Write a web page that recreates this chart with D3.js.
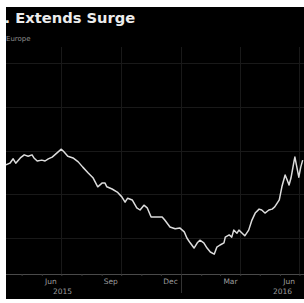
<!DOCTYPE html>
<html>
<head>
<meta charset="utf-8">
<script src="https://cdn.jsdelivr.net/npm/d3@7"></script>
<style>
  html, body { margin: 0; padding: 0; background: #fff; }
  svg { display: block; }
</style>
</head>
<body>
<div id="chart"></div>
<script>
// series
const dates = [
  "2015-04-07", "2015-04-13", "2015-04-18", "2015-04-22", "2015-04-29", "2015-05-05",
  "2015-05-11", "2015-05-17", "2015-05-20", "2015-05-25", "2015-06-01", "2015-06-06",
  "2015-06-11", "2015-06-17", "2015-06-24", "2015-07-01", "2015-07-05", "2015-07-11",
  "2015-07-19", "2015-07-27", "2015-08-03", "2015-08-11", "2015-08-19", "2015-08-26",
  "2015-09-02", "2015-09-06", "2015-09-09", "2015-09-17", "2015-09-25", "2015-10-02",
  "2015-10-07", "2015-10-11", "2015-10-18", "2015-10-25", "2015-10-30", "2015-11-05",
  "2015-11-10", "2015-11-16", "2015-11-25", "2015-12-03", "2015-12-07", "2015-12-15",
  "2015-12-23", "2015-12-30", "2016-01-06", "2016-01-10", "2016-01-15", "2016-01-21",
  "2016-01-26", "2016-01-30", "2016-02-05", "2016-02-10", "2016-02-15", "2016-02-21",
  "2016-02-25", "2016-03-01", "2016-03-07", "2016-03-09", "2016-03-15", "2016-03-19",
  "2016-03-22", "2016-03-27", "2016-03-30", "2016-04-04", "2016-04-08", "2016-04-14",
  "2016-04-19", "2016-04-24", "2016-04-30", "2016-05-04", "2016-05-09", "2016-05-15",
  "2016-05-20", "2016-05-24", "2016-05-31", "2016-06-04", "2016-06-09", "2016-06-12",
  "2016-06-15", "2016-06-18", "2016-06-23", "2016-06-24", "2016-06-27", "2016-06-30",
  "2016-07-03", "2016-07-06"
];
const values = [
  116.7, 117.1, 118.1, 117.1, 118.3, 119.0,
  118.7, 119.0, 118.3, 117.6, 117.8, 117.6,
  118.1, 118.5, 119.4, 120.3, 119.7, 118.7,
  118.3, 117.4, 116.2, 114.9, 113.7, 111.7,
  112.6, 112.6, 111.7, 111.2, 110.5, 109.4,
  108.2, 109.1, 108.7, 106.9, 106.4, 107.5,
  106.9, 104.8, 104.8, 104.8, 104.1, 102.5,
  102.1, 102.3, 101.4, 100.0, 98.9, 97.7,
  98.9, 99.5, 98.9, 97.7, 96.8, 96.3,
  97.9, 98.4, 98.9, 100.2, 100.7, 100.2,
  101.8, 101.1, 101.8, 101.1, 100.5, 101.8,
  104.1, 105.7, 106.6, 106.4, 105.7, 106.4,
  106.6, 107.1, 108.7, 111.7, 114.4, 113.3,
  112.1, 113.7, 117.8, 118.5, 116.2, 113.9,
  116.2, 117.8
];

// axis labels
const monthLabels = ["Jun", "Sep", "Dec", "Mar", "Jun"];
const monthLabelDates = ["2015-06-15", "2015-09-15", "2015-12-16", "2016-03-17", "2016-06-15"];
const yearLabels = ["2015", "2016"];
const yearLabelDates = ["2015-07-03", "2016-06-05"];
const gridDates = ["2015-07-01", "2015-10-01", "2016-01-01", "2016-04-01", "2016-07-01"];
const gridValues = [100, 110, 120, 130, 140];

const parse = d3.timeParse("%Y-%m-%d");
const data = dates.map((d, i) => ({ date: parse(d), value: values[i] }));

const W = 304, H = 303;
// black panel
const panel = { left: 6, top: 7, right: 304, bottom: 299 };
const plotTop = 47, axisY = 274;

const x = d3.scaleTime()
  .domain([parse("2015-04-07"), parse("2016-07-08")])
  .range([panel.left, panel.right]);

const y = d3.scaleLinear()
  .domain([100, 140])
  .range([238, 63]);

const svg = d3.select("#chart").append("svg")
  .attr("width", W)
  .attr("height", H);

svg.append("defs").append("clipPath").attr("id", "panel-clip")
  .append("rect")
  .attr("x", panel.left).attr("y", panel.top)
  .attr("width", panel.right - panel.left)
  .attr("height", panel.bottom - panel.top);

const g = svg.append("g").attr("clip-path", "url(#panel-clip)");

g.append("rect")
  .attr("x", panel.left).attr("y", panel.top)
  .attr("width", panel.right - panel.left)
  .attr("height", panel.bottom - panel.top)
  .attr("fill", "#000");

// title + subtitle
g.append("text")
  .attr("x", 4.5).attr("y", 23)
  .attr("font-family", "DejaVu Sans")
  .attr("font-weight", "bold")
  .attr("font-size", 14.7)
  .attr("fill", "#ececec")
  .text(". Extends Surge");

g.append("text")
  .attr("x", 6).attr("y", 41)
  .attr("font-family", "DejaVu Sans")
  .attr("font-size", 7)
  .attr("fill", "#8c8c8c")
  .text("Europe");

// horizontal grid
g.selectAll(".hgrid")
  .data(gridValues)
  .enter()
  .append("line")
  .attr("class", "hgrid")
  .attr("x1", panel.left).attr("x2", panel.right)
  .attr("y1", d => Math.round(y(d)) + 0.5)
  .attr("y2", d => Math.round(y(d)) + 0.5)
  .attr("stroke", "#191919")
  .attr("stroke-width", 1);

// vertical grid
g.selectAll(".vgrid")
  .data(gridDates.map(parse))
  .enter()
  .append("line")
  .attr("class", "vgrid")
  .attr("x1", d => Math.round(x(d)) + 0.5)
  .attr("x2", d => Math.round(x(d)) + 0.5)
  .attr("y1", plotTop).attr("y2", axisY)
  .attr("stroke", "#191919")
  .attr("stroke-width", 1);

// bottom axis, month ticks
const xAxis = d3.axisBottom(x)
  .ticks(d3.timeMonth.every(1))
  .tickSize(2)
  .tickFormat("");

const ax = g.append("g")
  .attr("transform", "translate(0," + axisY + ")")
  .call(xAxis);
ax.select(".domain").attr("stroke", "#4a4a4a").attr("d", "M" + panel.left + ",0.5H" + panel.right);
ax.selectAll(".tick line").attr("stroke", "#3a3a3a");

// year divider
g.append("line")
  .attr("x1", Math.round(x(parse("2016-01-01"))) + 0.5)
  .attr("x2", Math.round(x(parse("2016-01-01"))) + 0.5)
  .attr("y1", axisY).attr("y2", 293)
  .attr("stroke", "#333");

g.selectAll(".mlabel")
  .data(monthLabels)
  .enter()
  .append("text")
  .attr("class", "mlabel")
  .attr("x", (d, i) => x(parse(monthLabelDates[i])))
  .attr("y", 284)
  .attr("text-anchor", "middle")
  .attr("font-family", "DejaVu Sans")
  .attr("font-size", 7.5)
  .attr("fill", "#9e9e9e")
  .text(d => d);

g.selectAll(".ylabel")
  .data(yearLabels)
  .enter()
  .append("text")
  .attr("class", "ylabel")
  .attr("x", (d, i) => x(parse(yearLabelDates[i])))
  .attr("y", 294)
  .attr("text-anchor", "middle")
  .attr("font-family", "DejaVu Sans")
  .attr("font-size", 7.5)
  .attr("fill", "#9e9e9e")
  .text(d => d);

// the series
const line = d3.line()
  .x(d => x(d.date))
  .y(d => y(d.value));

g.append("path")
  .datum(data)
  .attr("fill", "none")
  .attr("stroke", "#dcdcdc")
  .attr("stroke-width", 1.5)
  .attr("stroke-linejoin", "round")
  .attr("d", line);
</script>
</body>
</html>
